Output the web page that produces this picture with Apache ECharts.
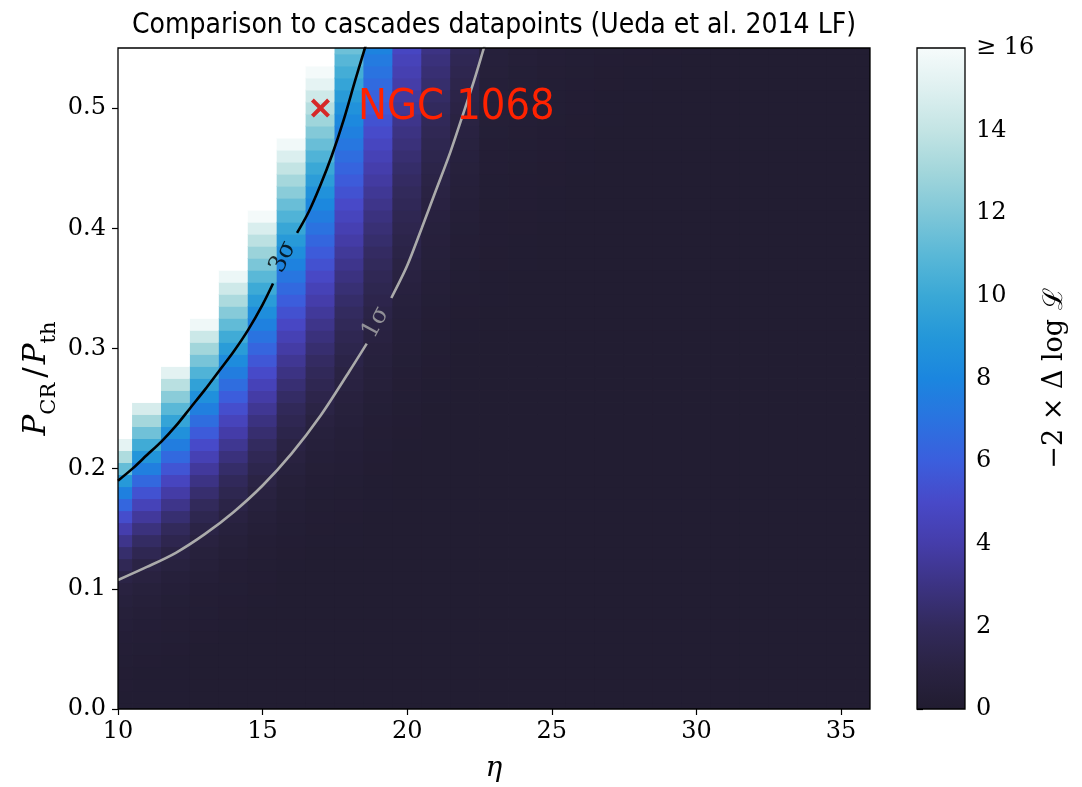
<!DOCTYPE html>
<html>
<head>
<meta charset="utf-8">
<script src="https://cdn.jsdelivr.net/npm/echarts@6/dist/echarts.min.js"></script>
<style>
  html, body { margin: 0; padding: 0; background: #ffffff; }
  #chart { width: 1082px; height: 787px; }
</style>
</head>
<body>
<div id="chart"></div>
<script>
// Grid of the likelihood scan: eta (columns) and P_CR/P_th (rows)
const etaValues = [10, 11, 12, 13, 14, 15, 16, 17, 18, 19, 20, 21, 22, 23, 24, 25, 26, 27, 28, 29, 30, 31, 32, 33, 34, 35, 36];
const ratioValues = [
  0.00, 0.01, 0.02, 0.03, 0.04, 0.05, 0.06, 0.07, 0.08, 0.09,
  0.10, 0.11, 0.12, 0.13, 0.14, 0.15, 0.16, 0.17, 0.18, 0.19,
  0.20, 0.21, 0.22, 0.23, 0.24, 0.25, 0.26, 0.27, 0.28, 0.29,
  0.30, 0.31, 0.32, 0.33, 0.34, 0.35, 0.36, 0.37, 0.38, 0.39,
  0.40, 0.41, 0.42, 0.43, 0.44, 0.45, 0.46, 0.47, 0.48, 0.49,
  0.50, 0.51, 0.52, 0.53, 0.54, 0.55
];

// -2 x delta log L per eta column, listed from P_CR/P_th = 0.00 upwards (18 = beyond the colour scale)
const col10 = [
  0.15,0.15,0.2,0.2,0.25,0.3,0.35,0.45,0.55,0.7,
  0.85,1.1,1.7,2.4,3.2,4.1,5.2,6.4,7.7,9.1,
  11.3,13.4,15.3,18,18,18,18,18,18,18,
  18,18,18,18,18,18,18,18,18,18,
  18,18,18,18,18,18,18,18,18,18,
  18,18,18,18,18,18];
const col11 = [
  0.15,0.15,0.15,0.15,0.2,0.25,0.3,0.35,0.4,0.5,
  0.65,0.85,1.09,1.58,2.17,2.85,3.62,4.48,5.44,6.49,
  7.63,8.87,10.2,11.6,13.1,14.7,18,18,18,18,
  18,18,18,18,18,18,18,18,18,18,
  18,18,18,18,18,18,18,18,18,18,
  18,18,18,18,18,18];
const col12 = [
  0.15,0.15,0.15,0.15,0.15,0.2,0.24,0.28,0.32,0.38,
  0.45,0.6,0.8,1.04,1.46,1.96,2.54,3.19,3.91,4.7,
  5.57,6.52,7.54,8.63,9.78,11,12.3,13.7,15.2,18,
  18,18,18,18,18,18,18,18,18,18,
  18,18,18,18,18,18,18,18,18,18,
  18,18,18,18,18,18];
const col13 = [
  0.13,0.13,0.13,0.13,0.13,0.13,0.17,0.2,0.24,0.28,
  0.33,0.4,0.5,0.65,0.85,1.11,1.5,1.94,2.45,3.02,
  3.64,4.32,5.06,5.85,6.7,7.61,8.58,9.61,10.7,11.8,
  13,14.3,15.7,18,18,18,18,18,18,18,
  18,18,18,18,18,18,18,18,18,18,
  18,18,18,18,18,18];
const col14 = [
  0.12,0.12,0.12,0.12,0.12,0.12,0.13,0.14,0.17,0.2,
  0.24,0.28,0.34,0.42,0.52,0.68,0.88,1.16,1.51,1.9,
  2.34,2.83,3.36,3.94,4.56,5.23,5.95,6.71,7.52,8.37,
  9.27,10.2,11.2,12.2,13.3,14.4,15.6,18,18,18,
  18,18,18,18,18,18,18,18,18,18,
  18,18,18,18,18,18];
const col15 = [
  0.12,0.12,0.12,0.12,0.12,0.12,0.12,0.12,0.13,0.15,
  0.17,0.2,0.23,0.28,0.34,0.42,0.52,0.66,0.85,1.08,
  1.38,1.71,2.08,2.48,2.92,3.4,3.91,4.45,5.04,5.65,
  6.31,7,7.72,8.48,9.28,10.1,11,11.9,12.8,13.8,
  14.8,15.9,18,18,18,18,18,18,18,18,
  18,18,18,18,18,18];
const col16 = [
  0.12,0.12,0.12,0.12,0.12,0.12,0.12,0.12,0.12,0.12,
  0.12,0.12,0.15,0.18,0.21,0.25,0.3,0.36,0.44,0.54,
  0.68,0.85,1.04,1.3,1.58,1.89,2.23,2.6,2.99,3.41,
  3.86,4.34,4.85,5.38,5.94,6.53,7.15,7.8,8.47,9.17,
  9.9,10.7,11.4,12.3,13.1,14,14.9,15.8,18,18,
  18,18,18,18,18,18];
const col17 = [
  0.12,0.12,0.12,0.12,0.12,0.12,0.12,0.12,0.12,0.12,
  0.12,0.12,0.12,0.12,0.15,0.17,0.2,0.23,0.27,0.32,
  0.39,0.47,0.57,0.7,0.85,1.09,1.32,1.58,1.86,2.16,
  2.48,2.83,3.19,3.58,3.99,4.43,4.89,5.37,5.87,6.4,
  6.94,7.51,8.1,8.72,9.35,10,10.7,11.4,12.1,12.9,
  13.6,14.4,15.3,15.9,18,18];
const col18 = [
  0.12,0.12,0.12,0.12,0.12,0.12,0.12,0.12,0.12,0.12,
  0.12,0.12,0.12,0.13,0.14,0.15,0.17,0.19,0.22,0.26,
  0.3,0.35,0.41,0.48,0.56,0.65,0.75,0.87,1,1.18,
  1.39,1.6,1.83,2.08,2.34,2.62,2.92,3.23,3.55,3.89,
  4.25,4.63,5.02,5.43,5.85,6.27,6.72,7.19,7.67,8.17,
  8.68,9.21,9.75,10.3,10.9,11.5];
const col19 = [
  0.12,0.12,0.12,0.12,0.12,0.12,0.12,0.12,0.12,0.12,
  0.12,0.12,0.12,0.12,0.12,0.12,0.13,0.14,0.15,0.16,
  0.18,0.21,0.24,0.28,0.32,0.37,0.43,0.5,0.57,0.66,
  0.76,0.87,1,1.16,1.34,1.52,1.72,1.94,2.16,2.4,
  2.65,2.91,3.18,3.47,3.77,4.08,4.4,4.74,5.08,5.44,
  5.81,6.2,6.59,7,7.42,7.86];
const col20 = [
  0.12,0.12,0.12,0.12,0.12,0.12,0.12,0.12,0.12,0.12,
  0.12,0.12,0.12,0.12,0.12,0.12,0.12,0.12,0.12,0.12,
  0.12,0.13,0.15,0.17,0.19,0.22,0.25,0.28,0.32,0.36,
  0.41,0.47,0.54,0.61,0.69,0.78,0.88,1,1.15,1.29,
  1.45,1.61,1.78,1.96,2.15,2.34,2.55,2.76,2.98,3.21,
  3.45,3.7,3.96,4.22,4.5,4.79];
const col21 = [
  0.12,0.12,0.12,0.12,0.12,0.12,0.12,0.12,0.12,0.12,
  0.12,0.12,0.12,0.12,0.12,0.12,0.12,0.12,0.12,0.12,
  0.12,0.12,0.12,0.12,0.12,0.12,0.14,0.16,0.18,0.2,
  0.22,0.25,0.28,0.32,0.36,0.4,0.45,0.5,0.56,0.63,
  0.7,0.78,0.87,0.98,1.1,1.24,1.38,1.53,1.69,1.85,
  2.03,2.21,2.4,2.59,2.8,3.01];
const col22 = [
  0.12,0.12,0.12,0.12,0.12,0.12,0.12,0.12,0.12,0.12,
  0.12,0.12,0.12,0.12,0.12,0.12,0.12,0.12,0.12,0.12,
  0.12,0.12,0.12,0.12,0.12,0.12,0.12,0.12,0.12,0.12,
  0.12,0.14,0.16,0.18,0.2,0.22,0.24,0.27,0.3,0.34,
  0.38,0.42,0.47,0.52,0.58,0.65,0.72,0.8,0.88,0.97,
  1.07,1.2,1.33,1.47,1.62,1.78];
const col23 = [
  0.12,0.12,0.12,0.12,0.12,0.12,0.12,0.12,0.12,0.12,
  0.12,0.12,0.12,0.12,0.12,0.12,0.12,0.12,0.12,0.12,
  0.12,0.12,0.12,0.12,0.12,0.12,0.12,0.12,0.12,0.12,
  0.12,0.12,0.12,0.13,0.14,0.15,0.16,0.17,0.18,0.19,
  0.2,0.21,0.23,0.25,0.27,0.29,0.31,0.33,0.36,0.39,
  0.42,0.45,0.48,0.52,0.56,0.6];
const col24 = [
  0.12,0.12,0.12,0.12,0.12,0.12,0.12,0.12,0.12,0.12,
  0.12,0.12,0.12,0.12,0.12,0.12,0.12,0.12,0.12,0.12,
  0.12,0.12,0.12,0.12,0.12,0.12,0.12,0.12,0.12,0.12,
  0.12,0.12,0.12,0.12,0.12,0.12,0.13,0.14,0.15,0.16,
  0.17,0.18,0.19,0.2,0.21,0.22,0.24,0.26,0.28,0.3,
  0.32,0.34,0.36,0.38,0.4,0.42];
const col25 = [
  0.12,0.12,0.12,0.12,0.12,0.12,0.12,0.12,0.12,0.12,
  0.12,0.12,0.12,0.12,0.12,0.12,0.12,0.12,0.12,0.12,
  0.12,0.12,0.12,0.12,0.12,0.12,0.12,0.12,0.12,0.12,
  0.12,0.12,0.12,0.12,0.12,0.12,0.12,0.12,0.12,0.12,
  0.13,0.14,0.15,0.16,0.17,0.18,0.19,0.2,0.21,0.23,
  0.24,0.25,0.27,0.28,0.3,0.32];
const col26 = [
  0.12,0.12,0.12,0.12,0.12,0.12,0.12,0.12,0.12,0.12,
  0.12,0.12,0.12,0.12,0.12,0.12,0.12,0.12,0.12,0.12,
  0.12,0.12,0.12,0.12,0.12,0.12,0.12,0.12,0.12,0.12,
  0.12,0.12,0.12,0.12,0.12,0.12,0.12,0.12,0.12,0.12,
  0.12,0.12,0.12,0.12,0.13,0.14,0.15,0.16,0.17,0.18,
  0.19,0.2,0.21,0.22,0.24,0.26];
const col27 = [
  0.12,0.12,0.12,0.12,0.12,0.12,0.12,0.12,0.12,0.12,
  0.12,0.12,0.12,0.12,0.12,0.12,0.12,0.12,0.12,0.12,
  0.12,0.12,0.12,0.12,0.12,0.12,0.12,0.12,0.12,0.12,
  0.12,0.12,0.12,0.12,0.12,0.12,0.12,0.12,0.12,0.12,
  0.12,0.12,0.12,0.12,0.12,0.12,0.12,0.12,0.13,0.14,
  0.15,0.16,0.17,0.18,0.2,0.22];
const col28 = [
  0.12,0.12,0.12,0.12,0.12,0.12,0.12,0.12,0.12,0.12,
  0.12,0.12,0.12,0.12,0.12,0.12,0.12,0.12,0.12,0.12,
  0.12,0.12,0.12,0.12,0.12,0.12,0.12,0.12,0.12,0.12,
  0.12,0.12,0.12,0.12,0.12,0.12,0.12,0.12,0.12,0.12,
  0.12,0.12,0.12,0.12,0.12,0.12,0.12,0.12,0.12,0.12,
  0.13,0.14,0.15,0.16,0.17,0.19];
const col29 = [
  0.12,0.12,0.12,0.12,0.12,0.12,0.12,0.12,0.12,0.12,
  0.12,0.12,0.12,0.12,0.12,0.12,0.12,0.12,0.12,0.12,
  0.12,0.12,0.12,0.12,0.12,0.12,0.12,0.12,0.12,0.12,
  0.12,0.12,0.12,0.12,0.12,0.12,0.12,0.12,0.12,0.12,
  0.12,0.12,0.12,0.12,0.12,0.12,0.12,0.12,0.12,0.12,
  0.12,0.12,0.13,0.14,0.15,0.17];
const col30 = [
  0.12,0.12,0.12,0.12,0.12,0.12,0.12,0.12,0.12,0.12,
  0.12,0.12,0.12,0.12,0.12,0.12,0.12,0.12,0.12,0.12,
  0.12,0.12,0.12,0.12,0.12,0.12,0.12,0.12,0.12,0.12,
  0.12,0.12,0.12,0.12,0.12,0.12,0.12,0.12,0.12,0.12,
  0.12,0.12,0.12,0.12,0.12,0.12,0.12,0.12,0.12,0.12,
  0.12,0.12,0.12,0.12,0.13,0.15];
const col31 = [
  0.12,0.12,0.12,0.12,0.12,0.12,0.12,0.12,0.12,0.12,
  0.12,0.12,0.12,0.12,0.12,0.12,0.12,0.12,0.12,0.12,
  0.12,0.12,0.12,0.12,0.12,0.12,0.12,0.12,0.12,0.12,
  0.12,0.12,0.12,0.12,0.12,0.12,0.12,0.12,0.12,0.12,
  0.12,0.12,0.12,0.12,0.12,0.12,0.12,0.12,0.12,0.12,
  0.12,0.12,0.12,0.12,0.12,0.13];
const col32 = [
  0.12,0.12,0.12,0.12,0.12,0.12,0.12,0.12,0.12,0.12,
  0.12,0.12,0.12,0.12,0.12,0.12,0.12,0.12,0.12,0.12,
  0.12,0.12,0.12,0.12,0.12,0.12,0.12,0.12,0.12,0.12,
  0.12,0.12,0.12,0.12,0.12,0.12,0.12,0.12,0.12,0.12,
  0.12,0.12,0.12,0.12,0.12,0.12,0.12,0.12,0.12,0.12,
  0.12,0.12,0.12,0.12,0.12,0.12];
const col33 = [
  0.12,0.12,0.12,0.12,0.12,0.12,0.12,0.12,0.12,0.12,
  0.12,0.12,0.12,0.12,0.12,0.12,0.12,0.12,0.12,0.12,
  0.12,0.12,0.12,0.12,0.12,0.12,0.12,0.12,0.12,0.12,
  0.12,0.12,0.12,0.12,0.12,0.12,0.12,0.12,0.12,0.12,
  0.12,0.12,0.12,0.12,0.12,0.12,0.12,0.12,0.12,0.12,
  0.12,0.12,0.12,0.12,0.12,0.12];
const col34 = [
  0.12,0.12,0.12,0.12,0.12,0.12,0.12,0.12,0.12,0.12,
  0.12,0.12,0.12,0.12,0.12,0.12,0.12,0.12,0.12,0.12,
  0.12,0.12,0.12,0.12,0.12,0.12,0.12,0.12,0.12,0.12,
  0.12,0.12,0.12,0.12,0.12,0.12,0.12,0.12,0.12,0.12,
  0.12,0.12,0.12,0.12,0.12,0.12,0.12,0.12,0.12,0.12,
  0.12,0.12,0.12,0.12,0.12,0.12];
const col35 = [
  0.12,0.12,0.12,0.12,0.12,0.12,0.12,0.12,0.12,0.12,
  0.12,0.12,0.12,0.12,0.12,0.12,0.12,0.12,0.12,0.12,
  0.12,0.12,0.12,0.12,0.12,0.12,0.12,0.12,0.12,0.12,
  0.12,0.12,0.12,0.12,0.12,0.12,0.12,0.12,0.12,0.12,
  0.12,0.12,0.12,0.12,0.12,0.12,0.12,0.12,0.12,0.12,
  0.12,0.12,0.12,0.12,0.12,0.12];
const col36 = [
  0.12,0.12,0.12,0.12,0.12,0.12,0.12,0.12,0.12,0.12,
  0.12,0.12,0.12,0.12,0.12,0.12,0.12,0.12,0.12,0.12,
  0.12,0.12,0.12,0.12,0.12,0.12,0.12,0.12,0.12,0.12,
  0.12,0.12,0.12,0.12,0.12,0.12,0.12,0.12,0.12,0.12,
  0.12,0.12,0.12,0.12,0.12,0.12,0.12,0.12,0.12,0.12,
  0.12,0.12,0.12,0.12,0.12,0.12];
const columns = [col10, col11, col12, col13, col14, col15, col16, col17, col18, col19, col20,
  col21, col22, col23, col24, col25, col26, col27, col28, col29, col30,
  col31, col32, col33, col34, col35, col36];

// Contour lines (null splits the line where the inline label sits)
const sigma3Eta   = [10.0, 10.5, 11.0, 11.5, 12.0, 12.5, 13.0, 13.5, 14.0, 14.5, 15.0, 15.36, null, 16.19, 16.6, 17.0, 17.4, 17.8, 18.2, 18.6, 18.8];
const sigma3Ratio = [0.190, 0.2000, 0.2113, 0.2225, 0.2355, 0.2505, 0.2655, 0.2815, 0.2975, 0.3155, 0.3365, 0.3540, null, 0.3961, 0.4140, 0.4360, 0.4610, 0.4900, 0.5230, 0.5550, 0.5720];
const sigma1Eta   = [10.0, 11.0, 12.0, 13.0, 14.0, 15.0, 16.0, 17.0, 18.0, 18.6, null, 19.45, 20.0, 20.5, 21.0, 21.5, 22.0, 22.3, 22.65, 22.8];
const sigma1Ratio = [0.1073, 0.1182, 0.1300, 0.1455, 0.1640, 0.1860, 0.2125, 0.2440, 0.2810, 0.3040, null, 0.3420, 0.3690, 0.4000, 0.4320, 0.4640, 0.5000, 0.5220, 0.5500, 0.5620];
const contourLabels = ['3σ', '1σ'];
const contourLabelEta = [15.71, 18.92];
const contourLabelRatio = [0.376, 0.3216];

// Highlighted source
const sourceName = 'NGC 1068';
const sourceEta = 17;
const sourceRatio = 0.5;

// Axis ticks
const xTicks = [10, 15, 20, 25, 30, 35];
const yTicks = [0.0, 0.1, 0.2, 0.3, 0.4, 0.5];
const cbarTicks = [0, 2, 4, 6, 8, 10, 12, 14, 16];

// Colour scale, one stop per unit from 0 to 16
const cmapStops = ['#211c30', '#2a2343', '#322a5c', '#3c3383', '#453daa', '#4849c8', '#3b5edd', '#2a73e0',
  '#1b86df', '#2497d9', '#3aa8d6', '#5ab8d7', '#7fc7d8', '#a2d6db', '#c3e4e4', '#def0f0', '#f6fbfb'];

const SERIF = "'DejaVu Serif', 'Liberation Serif', serif";
const SANS = "'DejaVu Sans Condensed', 'Liberation Sans Narrow', 'DejaVu Sans', sans-serif";

const cells = [];
etaValues.forEach((eta, i) => {
  ratioValues.forEach((r, j) => { cells.push([eta, r, columns[i][j]]); });
});

function zipLine(xs, ys) {
  return xs.map((x, i) => (x === null ? [null, null] : [x, ys[i]]));
}

const plot = { left: 118, top: 48, width: 752, height: 661 };
const cbar = { left: 917, top: 48, width: 48, height: 661 };

const chart = echarts.init(document.getElementById('chart'), null, { renderer: 'canvas' });

const crossPath = 'path://M1.5,0 L5,3.5 L8.5,0 L10,1.5 L6.5,5 L10,8.5 L8.5,10 L5,6.5 L1.5,10 L0,8.5 L3.5,5 L0,1.5 Z';

const tickStyle = { show: true, inside: false, length: 6, lineStyle: { color: '#000', width: 1.2 } };

chart.setOption({
  animation: false,
  backgroundColor: '#ffffff',
  grid: [
    Object.assign({ outerBoundsMode: 'none', containLabel: false }, plot),
    Object.assign({ outerBoundsMode: 'none', containLabel: false }, cbar)
  ],
  xAxis: [
    {
      type: 'value', gridIndex: 0, min: 10, max: 36,
      axisLine: { show: false }, splitLine: { show: false },
      axisTick: Object.assign({ customValues: xTicks }, tickStyle),
      axisLabel: { customValues: xTicks, color: '#000', fontFamily: SERIF, fontSize: 24, margin: 11 },
      name: 'η', nameLocation: 'middle', nameGap: 46,
      nameTextStyle: { fontFamily: SERIF, fontStyle: 'italic', fontSize: 28, color: '#000' }
    },
    {
      type: 'value', gridIndex: 1, min: 0, max: 1, show: false
    }
  ],
  yAxis: [
    {
      type: 'value', gridIndex: 0, min: 0, max: 0.55,
      axisLine: { show: false }, splitLine: { show: false },
      axisTick: Object.assign({ customValues: yTicks }, tickStyle),
      axisLabel: { customValues: yTicks, color: '#000', fontFamily: SERIF, fontSize: 24, margin: 12,
        formatter: v => v.toFixed(1) },
      name: '{p|P}{s|CR}{n|/}{p|P}{s|th}', nameLocation: 'middle', nameGap: 58, nameRotate: 90,
      nameMoveOverlap: false,
      nameTextStyle: {
        color: '#000',
        rich: {
          p: { fontFamily: SERIF, fontStyle: 'italic', fontSize: 31, color: '#000', padding: [0, 0, 8, 0], verticalAlign: 'bottom' },
          s: { fontFamily: SERIF, fontSize: 21, color: '#000', verticalAlign: 'bottom' },
          n: { fontFamily: SERIF, fontSize: 31, color: '#000', padding: [0, 3, 8, 5], verticalAlign: 'bottom' }
        }
      }
    },
    {
      type: 'value', gridIndex: 1, min: 0, max: 16, position: 'right',
      axisLine: { show: false }, splitLine: { show: false },
      axisTick: Object.assign({ customValues: cbarTicks }, tickStyle),
      axisLabel: { customValues: cbarTicks, color: '#000', fontFamily: SERIF, fontSize: 24, margin: 11,
        formatter: v => (v >= 16 ? '≥ 16' : String(v)) },
      name: '−2 × Δ log ℒ', nameLocation: 'middle', nameGap: 76, nameRotate: 90,
      nameTextStyle: { fontFamily: SERIF, fontSize: 27, color: '#000' }
    }
  ],
  visualMap: {
    type: 'continuous', show: false, seriesIndex: 0, dimension: 2,
    min: 0, max: 18,
    inRange: { color: cmapStops.concat(['#ffffff', '#ffffff']) }
  },
  graphic: [
    {
      type: 'text', x: plot.left + plot.width / 2, y: 12, z: 100,
      style: { text: 'Comparison to cascades datapoints (Ueda et al. 2014 LF)', fontFamily: SANS, fontSize: 28,
        fill: '#000', textAlign: 'center', textVerticalAlign: 'top' }
    },
    {
      type: 'rect', z: 100, silent: true,
      shape: { x: plot.left, y: plot.top, width: plot.width, height: plot.height },
      style: { fill: null, stroke: '#000', lineWidth: 1.3 }
    },
    {
      type: 'rect', z: 100, silent: true,
      shape: { x: cbar.left, y: cbar.top, width: cbar.width, height: cbar.height },
      style: { fill: null, stroke: '#000', lineWidth: 1.3 }
    }
  ],
  series: [
    {
      // likelihood grid
      type: 'custom', xAxisIndex: 0, yAxisIndex: 0,
      dimensions: ['eta', 'ratio', 'value'],
      encode: { x: 0, y: 1 },
      data: cells,
      renderItem: function (params, api) {
        const e = api.value(0), r = api.value(1);
        const p0 = api.coord([e - 0.5, r + 0.005]);
        const p1 = api.coord([e + 0.5, r - 0.005]);
        const rect = echarts.graphic.clipRectByRect(
          { x: p0[0] - 0.4, y: p0[1] - 0.4, width: p1[0] - p0[0] + 0.8, height: p1[1] - p0[1] + 0.8 },
          { x: params.coordSys.x, y: params.coordSys.y, width: params.coordSys.width, height: params.coordSys.height }
        );
        if (!rect) return null;
        return { type: 'rect', shape: rect, style: { fill: api.visual('color') } };
      },
      z: 1
    },
    {
      type: 'line', xAxisIndex: 0, yAxisIndex: 0,
      data: zipLine(sigma3Eta, sigma3Ratio), showSymbol: false, connectNulls: false, smooth: 0.3,
      lineStyle: { color: '#000000', width: 2.6 }, z: 5, silent: true
    },
    {
      type: 'line', xAxisIndex: 0, yAxisIndex: 0,
      data: zipLine(sigma1Eta, sigma1Ratio), showSymbol: false, connectNulls: false, smooth: 0.3,
      lineStyle: { color: '#ababab', width: 2.6 }, z: 5, silent: true
    },
    {
      type: 'scatter', xAxisIndex: 0, yAxisIndex: 0, symbolSize: 0, z: 6, silent: true,
      data: [
        { value: [contourLabelEta[0], contourLabelRatio[0]], name: contourLabels[0],
          label: { rotate: 64, color: '#000000' } },
        { value: [contourLabelEta[1], contourLabelRatio[1]], name: contourLabels[1],
          label: { rotate: 62, color: '#ababab' } }
      ],
      label: { show: true, position: 'inside', formatter: p => p.name, fontFamily: SERIF, fontSize: 24 }
    },
    {
      type: 'scatter', xAxisIndex: 0, yAxisIndex: 0, z: 7, silent: true,
      data: [[sourceEta, sourceRatio]],
      symbol: crossPath, symbolSize: 19,
      itemStyle: { color: '#d62728', opacity: 1 },
      label: { show: true, formatter: sourceName, position: 'right', distance: 28, opacity: 1,
        color: '#ff2200', fontFamily: SANS, fontSize: 43 }
    },
    {
      // colour bar
      type: 'custom', xAxisIndex: 1, yAxisIndex: 1,
      data: [[0, 16]],
      renderItem: function (params, api) {
        const a = api.coord([0, 0]);
        const b = api.coord([1, api.value(1)]);
        const stops = cmapStops.map((c, i) => ({ offset: i / (cmapStops.length - 1), color: c }));
        return {
          type: 'rect',
          shape: { x: a[0], y: b[1], width: b[0] - a[0], height: a[1] - b[1] },
          style: { fill: new echarts.graphic.LinearGradient(0, 1, 0, 0, stops) }
        };
      },
      z: 1, silent: true
    }
  ]
});
</script>
</body>
</html>
